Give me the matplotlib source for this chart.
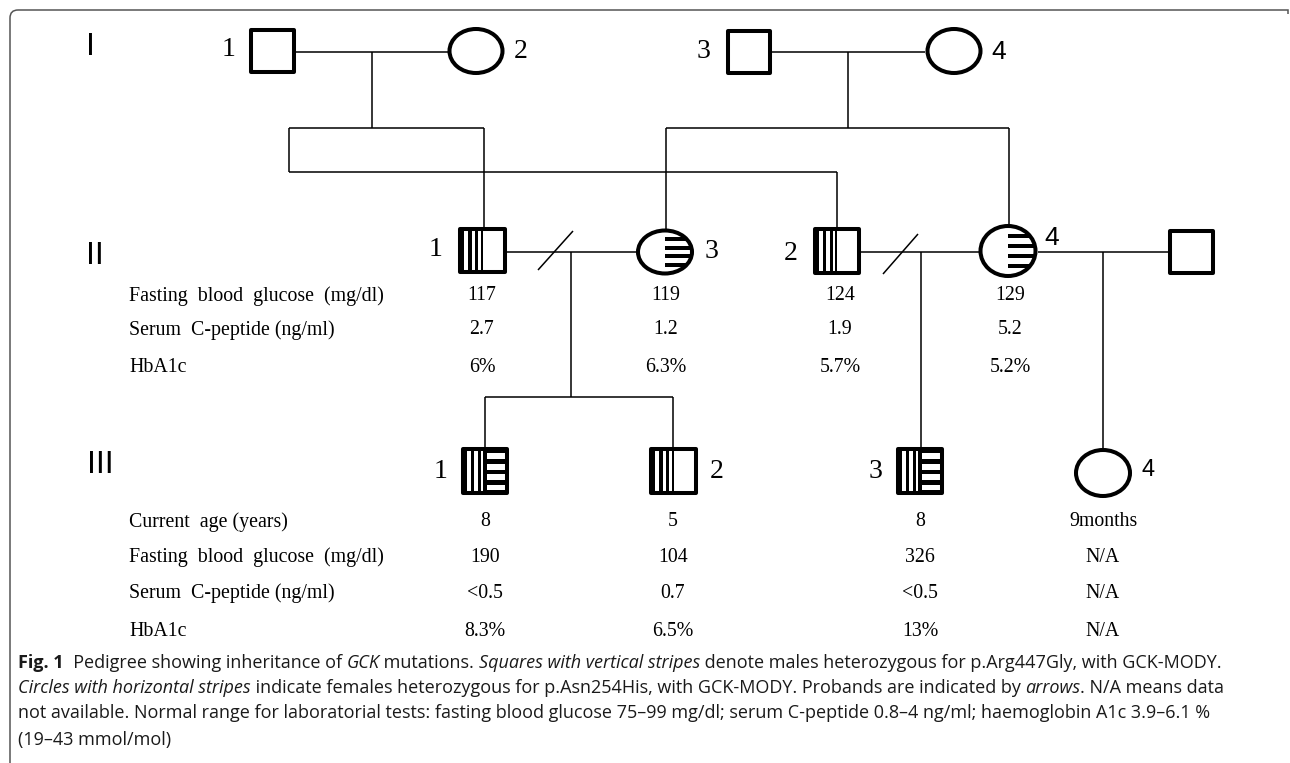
import matplotlib
matplotlib.use('Agg')
import matplotlib.pyplot as plt
from matplotlib.patches import Rectangle, Ellipse
from matplotlib.path import Path
import matplotlib.patches as mpatches

# ---------------- data ----------------
generations = ['I', 'II', 'III']

gen1_labels = ['1', '2', '3', '4']
gen2_labels = ['1', '3', '2', '4']          # II-1, II-3, II-2, II-4
gen3_labels = ['1', '2', '3', '4']

gen2_rows = ['Fasting  blood  glucose  (mg/dl)', 'Serum  C-peptide (ng/ml)', 'HbA1c']
gen2_fbg = ['117', '119', '124', '129']
gen2_cpep = ['2.7', '1.2', '1.9', '5.2']
gen2_hba1c = ['6%', '6.3%', '5.7%', '5.2%']

gen3_rows = ['Current  age (years)', 'Fasting  blood  glucose  (mg/dl)',
             'Serum  C-peptide (ng/ml)', 'HbA1c']
gen3_age = ['8', '5', '8', '9months']
gen3_fbg = ['190', '104', '326', 'N/A']
gen3_cpep = ['<0.5', '0.7', '<0.5', 'N/A']
gen3_hba1c = ['8.3%', '6.5%', '13%', 'N/A']

caption_lines = [
    [("Fig. 1", 'bold', 'normal'), ("  Pedigree showing inheritance of ", 'normal', 'normal'),
     ("GCK", 'normal', 'italic'), (" mutations. ", 'normal', 'normal'),
     ("Squares with vertical stripes", 'normal', 'italic'),
     (" denote males heterozygous for p.Arg447Gly, with GCK-MODY.", 'normal', 'normal')],
    [("Circles with horizontal stripes", 'normal', 'italic'),
     (" indicate females heterozygous for p.Asn254His, with GCK-MODY. Probands are indicated by ", 'normal', 'normal'),
     ("arrows", 'normal', 'italic'), (". N/A means data", 'normal', 'normal')],
    [("not available. Normal range for laboratorial tests: fasting blood glucose 75\u201399 mg/dl; serum C-peptide 0.8\u20134 ng/ml; haemoglobin A1c 3.9\u20136.1 %", 'normal', 'normal')],
    [("(19\u201343 mmol/mol)", 'normal', 'normal')],
]

# ---------------- layout ----------------
W, H = 1290, 763
fig = plt.figure(figsize=(W / 100, H / 100), dpi=100)
ax = fig.add_axes([0, 0, 1, 1])
ax.set_xlim(0, W)
ax.set_ylim(H, 0)
ax.axis('off')
renderer = fig.canvas.get_renderer()

SERIF = 'Liberation Serif'
SANS = 'Liberation Sans'
CAP = 'Open Sans'

OUT_LW = 2.9   # symbol outline
LN_LW = 1.1    # connecting lines


def line(x0, y0, x1, y1, lw=LN_LW):
    ax.plot([x0, x1], [y0, y1], color='black', lw=lw, solid_capstyle='butt', zorder=2)


def square(x0, y0, x1, y1, pattern='none'):
    i = 2.0
    a0, b0, a1, b1 = x0 + i, y0 + i, x1 - i, y1 - i
    w, h = a1 - a0, b1 - b0
    xc = (a0 + a1) / 2
    ax.add_patch(Rectangle((a0, b0), w, h, facecolor='white', edgecolor='none', zorder=3))
    if pattern in ('vert', 'both'):
        ax.add_patch(Rectangle((a0, b0), xc - a0, h, facecolor='black', edgecolor='none', zorder=4))
        for f0, f1 in [(0.18, 0.36), (0.52, 0.68), (0.82, 0.93)]:
            ax.add_patch(Rectangle((a0 + f0 * (xc - a0), b0), (f1 - f0) * (xc - a0), h,
                                   facecolor='white', edgecolor='none', zorder=5))
    if pattern == 'both':
        ax.add_patch(Rectangle((xc, b0), a1 - xc, h, facecolor='black', edgecolor='none', zorder=4))
        for f0, f1 in [(0.08, 0.22), (0.33, 0.47), (0.57, 0.71), (0.81, 0.93)]:
            ax.add_patch(Rectangle((xc + 2, b0 + f0 * h), a1 - xc - 2, (f1 - f0) * h,
                                   facecolor='white', edgecolor='none', zorder=5))
    if pattern != 'none':
        line(xc, b0, xc, b1, lw=1.6)
    ax.add_patch(Rectangle((a0, b0), w, h, facecolor='none', edgecolor='black',
                           lw=OUT_LW, joinstyle='round', zorder=6))


def circle(cx, cy, w, h, pattern='none'):
    i = 2.0
    w, h = w - 2 * i, h - 2 * i
    base = Ellipse((cx, cy), w, h, facecolor='white', edgecolor='none', zorder=3)
    ax.add_patch(base)
    if pattern == 'horiz':
        for f in [0.2, 0.4, 0.6, 0.8]:
            r = Rectangle((cx, cy - h / 2 + f * h - 1.9), w / 2, 3.8,
                          facecolor='black', edgecolor='none', zorder=4)
            ax.add_patch(r)
            r.set_clip_path(base)
        line(cx, cy - h / 2, cx, cy + h / 2, lw=1.8)
    ax.add_patch(Ellipse((cx, cy), w, h, facecolor='none', edgecolor='black',
                         lw=OUT_LW, zorder=6))


def label(x, y, s, size=20, family=SERIF):
    ax.text(x, y, s, ha='center', va='center', fontsize=size, family=family, zorder=7)


# ---- frame (top + left with rounded corner) ----
r = 8
verts = [(10, H + 2), (10, 10 + r), (10, 10), (10 + r, 10), (1286, 10), (1288, 10), (1288, 14)]
codes = [Path.MOVETO, Path.LINETO, Path.CURVE3, Path.CURVE3, Path.LINETO, Path.LINETO, Path.LINETO]
ax.add_patch(mpatches.PathPatch(Path(verts, codes), facecolor='none', edgecolor='#555555', lw=1.1, zorder=1))

# ---- generation numerals ----
gen_y = [47, 256, 465]
gen_x = [90, 95, 100]
for g, gx, gy in zip(generations, gen_x, gen_y):
    ax.text(gx, gy, g, ha='center', va='center', fontsize=23, family=SANS)

# ---- Generation I ----
line(296, 52, 448, 52)
line(372, 52, 372, 128)
line(289, 128, 484, 128)
line(484, 128, 484, 228)
line(289, 128, 289, 172)
line(289, 172, 837, 172)
line(837, 172, 837, 228)
line(772, 52, 925, 52)
line(848, 52, 848, 128)
line(666, 128, 1009, 128)
line(666, 128, 666, 230)
line(1009, 128, 1009, 225)

square(249, 28, 296, 74)
circle(476, 51, 57, 48)
square(726, 29, 772, 75)
circle(954, 51, 57, 48)
g1_pos = [(229, 50), (521, 52), (703, 51), (999, 52)]
for s, (x, y) in zip(gen1_labels, g1_pos):
    label(x, y, s, family=SERIF if s != '4' else SANS, size=20 if s != '4' else 19)

# ---- Generation II ----
line(507, 252, 637, 252)
line(538, 270, 573, 231)
line(571, 252, 571, 397)
line(485, 397, 673, 397)
line(485, 397, 485, 448)
line(673, 397, 673, 448)
line(861, 252, 979, 252)
line(883, 274, 918, 234)
line(921, 252, 921, 448)
line(1038, 252, 1168, 252)
line(1103, 252, 1103, 449)

square(458, 227, 507, 274, 'vert')
circle(665, 252, 58, 47, 'horiz')
square(813, 227, 861, 275, 'vert')
circle(1008, 251, 59, 54, 'horiz')
square(1168, 229, 1215, 275)
g2_pos = [(436, 250), (711, 252), (791, 254), (1052, 238)]
for s, (x, y) in zip(gen2_labels, g2_pos):
    label(x, y, s, family=SERIF if s != '4' else SANS, size=20 if s != '4' else 19)

# ---- Generation III ----
square(461, 447, 509, 495, 'both')
square(649, 447, 698, 495, 'vert')
square(896, 447, 944, 495, 'both')
circle(1103, 473, 58, 50)
g3_pos = [(441, 471), (717, 471), (876, 471), (1148, 470)]
for s, (x, y) in zip(gen3_labels, g3_pos):
    label(x, y, s, family=SERIF if s != '4' else SANS, size=20 if s != '4' else 17)

# ---- tables ----
probe = ax.text(0, 0, gen2_rows[0], fontsize=10, family=SERIF)
wprobe = probe.get_window_extent(renderer).width
probe.remove()
TAB = 10 * 253 / wprobe

row_x = 129
g2_row_y = [296, 330, 367]
g2_col_x = [482, 666, 840, 1010]
for name, vals, y in zip(gen2_rows, [gen2_fbg, gen2_cpep, gen2_hba1c], g2_row_y):
    ax.text(row_x, y, name, ha='left', va='center', fontsize=TAB, family=SERIF)
    for v, x in zip(vals, g2_col_x):
        ax.text(x, y, v, ha='center', va='center', fontsize=TAB, family=SERIF)

g3_row_y = [522, 557, 593, 632]
g3_col_x = [485, 673, 920, 1103]
for name, vals, y in zip(gen3_rows, [gen3_age, gen3_fbg, gen3_cpep, gen3_hba1c], g3_row_y):
    ax.text(row_x, y, name, ha='left', va='center', fontsize=TAB, family=SERIF)
    for v, x in zip(vals, g3_col_x):
        ax.text(x, y, v, ha='center', va='center', fontsize=TAB, family=SERIF)

# ---- caption ----
def draw_line(segs, x, y, size, draw=True):
    texts = []
    for s, wt, st in segs:
        t = ax.text(x, y, s, ha='left', va='baseline', fontsize=size, family=CAP,
                    fontweight=wt, fontstyle=st, color='#1a1a1a')
        bb = t.get_window_extent(renderer)
        x += bb.width
        texts.append(t)
    if not draw:
        for t in texts:
            t.remove()
    return x

end = draw_line(caption_lines[0], 18, 668, 10, draw=False)
CAPSZ = 10 * (1222 - 18) / (end - 18)
cap_base = [668, 693, 718, 745]
for segs, yb in zip(caption_lines, cap_base):
    draw_line(segs, 18, yb, CAPSZ)

fig.savefig('out.png', dpi=100)
